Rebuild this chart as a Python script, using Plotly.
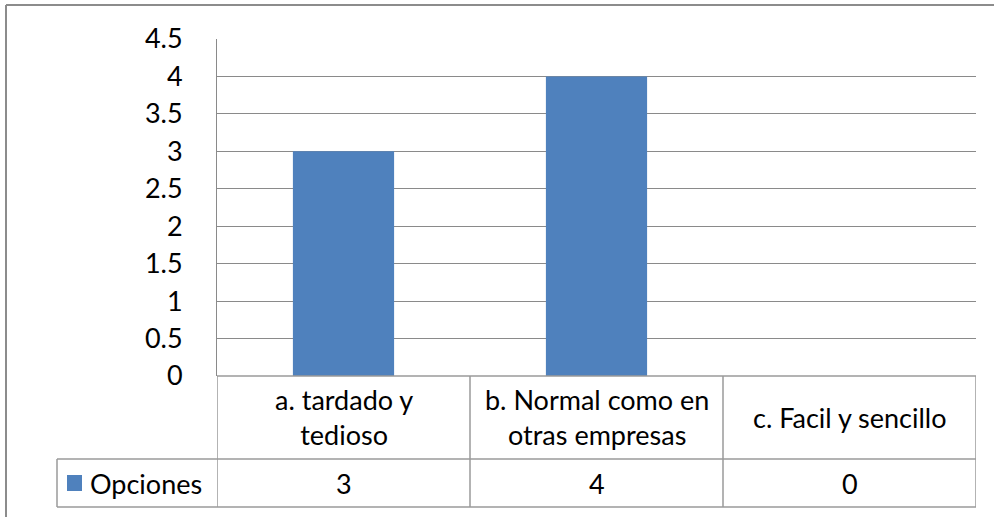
import plotly.graph_objects as go

# Survey answers and counts
categories = ["a. tardado y<br>tedioso", "b. Normal como en<br>otras empresas", "c. Facil y sencillo"]
values = [3, 4, 0]
series_name = "Opciones"
y_ticks = [0, 0.5, 1, 1.5, 2, 2.5, 3, 3.5, 4, 4.5]
y_tick_labels = ["0", "0.5", "1", "1.5", "2", "2.5", "3", "3.5", "4", "4.5"]

W, H = 994, 517
BAR = "#4F81BD"
GRID = "#8a8a8a"
TABLE = "#9a9a9a"
FONT = "Lato"
FS = 27


def fx(p):
    return p / W


def fy(p):
    return 1 - p / H


idx = list(range(len(categories)))

fig = go.Figure(
    go.Bar(x=idx, y=values, width=0.4, marker=dict(color=BAR, line=dict(width=0)),
           name=series_name, showlegend=False, hoverinfo="skip")
)

shapes = []
line = dict(color=TABLE, width=1.5)
# data table: top edge on the category axis, column dividers
shapes.append(dict(type="line", xref="x", yref="paper", x0=-0.5, x1=len(idx) - 0.5,
                   y0=fy(376), y1=fy(376), line=line))
for b in [i - 0.5 for i in idx] + [len(idx) - 0.5]:
    shapes.append(dict(type="line", xref="x", yref="paper", x0=b, x1=b,
                       y0=fy(376), y1=fy(507), line=line))
# series row
for yy in (459, 507):
    shapes.append(dict(type="line", xref="paper", yref="paper", x0=fx(57), x1=fx(976),
                       y0=fy(yy), y1=fy(yy), line=line))
shapes.append(dict(type="line", xref="paper", yref="paper", x0=fx(57), x1=fx(57),
                   y0=fy(459), y1=fy(507), line=line))
# legend key
shapes.append(dict(type="rect", xref="paper", yref="paper", x0=fx(67), x1=fx(82),
                   y0=fy(491), y1=fy(475), fillcolor=BAR, line=dict(width=0)))
# chart area border (left and top edges)
border = dict(color="#8c8c8c", width=2)
shapes.append(dict(type="line", xref="paper", yref="paper", x0=fx(6), x1=fx(6),
                   y0=fy(5), y1=0, line=border))
shapes.append(dict(type="line", xref="paper", yref="paper", x0=fx(6), x1=1,
                   y0=fy(5), y1=fy(5), line=border))

annotations = []
for i, (c, v) in enumerate(zip(categories, values)):
    annotations.append(dict(x=i, y=fy(417), xref="x", yref="paper", text=c,
                            showarrow=False, xanchor="center", yanchor="middle",
                            font=dict(family=FONT, size=FS, color="#000")))
    annotations.append(dict(x=i, y=fy(483), xref="x", yref="paper", text=str(v),
                            showarrow=False, xanchor="center", yanchor="middle",
                            font=dict(family=FONT, size=FS, color="#000")))
annotations.append(dict(x=fx(88), y=fy(483), xref="paper", yref="paper", text=series_name,
                        showarrow=False, xanchor="left", yanchor="middle",
                        font=dict(family=FONT, size=FS, color="#000")))

fig.update_layout(
    width=W, height=H,
    margin=dict(l=0, r=0, t=0, b=0, autoexpand=False),
    paper_bgcolor="white", plot_bgcolor="white",
    font=dict(family=FONT, size=FS, color="#000"),
    xaxis=dict(domain=[fx(217), fx(976)], range=[-0.5, len(idx) - 0.5],
               showticklabels=False, showgrid=False, zeroline=False, showline=False,
               fixedrange=True, automargin=False),
    yaxis=dict(domain=[fy(376), fy(39)], range=[0, 4.5], tickvals=y_ticks,
               ticktext=y_tick_labels, showgrid=True, gridcolor=GRID, gridwidth=1,
               zeroline=False, showline=True, linecolor=GRID, linewidth=1,
               ticks="", ticklabelstandoff=28, automargin=False,
               tickfont=dict(family=FONT, size=FS, color="#000"), fixedrange=True),
    bargap=0.6,
    shapes=shapes,
    annotations=annotations,
)

fig.write_html("out.html")
